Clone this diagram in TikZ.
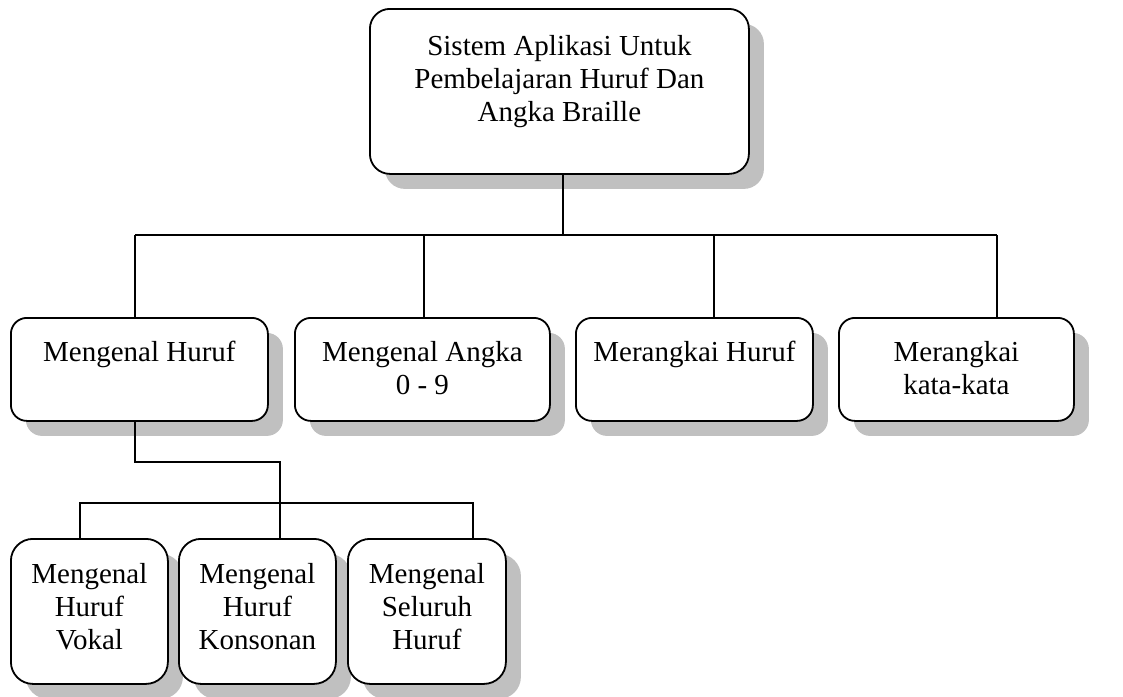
\documentclass[tikz,border=0pt]{standalone}
\usepackage{fontspec}
\setmainfont{Liberation Serif}
\usetikzlibrary{shadows}
\definecolor{shadegray}{RGB}{192,192,192}
% box text: top-aligned, centred lines inside a box of fixed size
\newcommand\cardtext[4]{\parbox[c][#2][t]{#1}{\centering\vspace*{#3}\strut #4\par}}
\begin{document}
\begin{tikzpicture}[x=1pt,y=1pt,
  card/.style={draw=black, line width=1.8pt, fill=white, inner sep=0pt,
    anchor=north west, rounded corners=#1,
    font=\fontsize{29}{33}\selectfont,
    drop shadow={shadow xshift=15pt, shadow yshift=-15pt, fill=shadegray, opacity=1}},
  card/.default=16pt,
  conn/.style={draw=black, line width=1.6pt}]
\useasboundingbox (0,0) rectangle (1123,-696);

% root
\node[card=20pt] (top) at (369,-8)
  {\cardtext{379pt}{165pt}{23pt}{Sistem Aplikasi Untuk\\Pembelajaran Huruf Dan\\Angka Braille}};

% second level
\node[card] (b1) at (10,-317) {\cardtext{257pt}{103pt}{20pt}{Mengenal Huruf}};
\node[card] (b2) at (294,-317) {\cardtext{255pt}{103pt}{20pt}{Mengenal Angka\\0 - 9}};
\node[card] (b3) at (575,-317) {\cardtext{237pt}{103pt}{20pt}{Merangkai Huruf}};
\node[card] (b4) at (838,-317) {\cardtext{235pt}{103pt}{20pt}{Merangkai\\kata-kata}};

% third level
\node[card=22pt] (c1) at (10,-538) {\cardtext{157pt}{145pt}{21pt}{Mengenal\\Huruf\\Vokal}};
\node[card=22pt] (c2) at (178,-538) {\cardtext{157pt}{145pt}{21pt}{Mengenal\\Huruf\\Konsonan}};
\node[card=22pt] (c3) at (347,-538) {\cardtext{158pt}{145pt}{21pt}{Mengenal\\Seluruh\\Huruf}};

% junction points of the tree lines
\coordinate (h0) at (563,-235);
\coordinate (h1) at (135,-235);
\coordinate (h2) at (424,-235);
\coordinate (h3) at (714,-235);
\coordinate (h4) at (997,-235);
\coordinate (k0) at (135,-462);
\coordinate (k1) at (280,-462);
\coordinate (m1) at (80,-503);
\coordinate (m3) at (473,-503);

% root to second level
\draw[conn] (h0 |- top.south) -- (h0);
\draw[conn] (h1) -- (h4);
\draw[conn] (h1) -- (h1 |- b1.north);
\draw[conn] (h2) -- (h2 |- b2.north);
\draw[conn] (h3) -- (h3 |- b3.north);
\draw[conn] (h4) -- (h4 |- b4.north);

% Mengenal Huruf to third level
\draw[conn] (k0 |- b1.south) -- (k0) -- (k1) -- (k1 |- c2.north);
\draw[conn] (m1 |- c1.north) |- (m3) -- (m3 |- c3.north);
\end{tikzpicture}
\end{document}
